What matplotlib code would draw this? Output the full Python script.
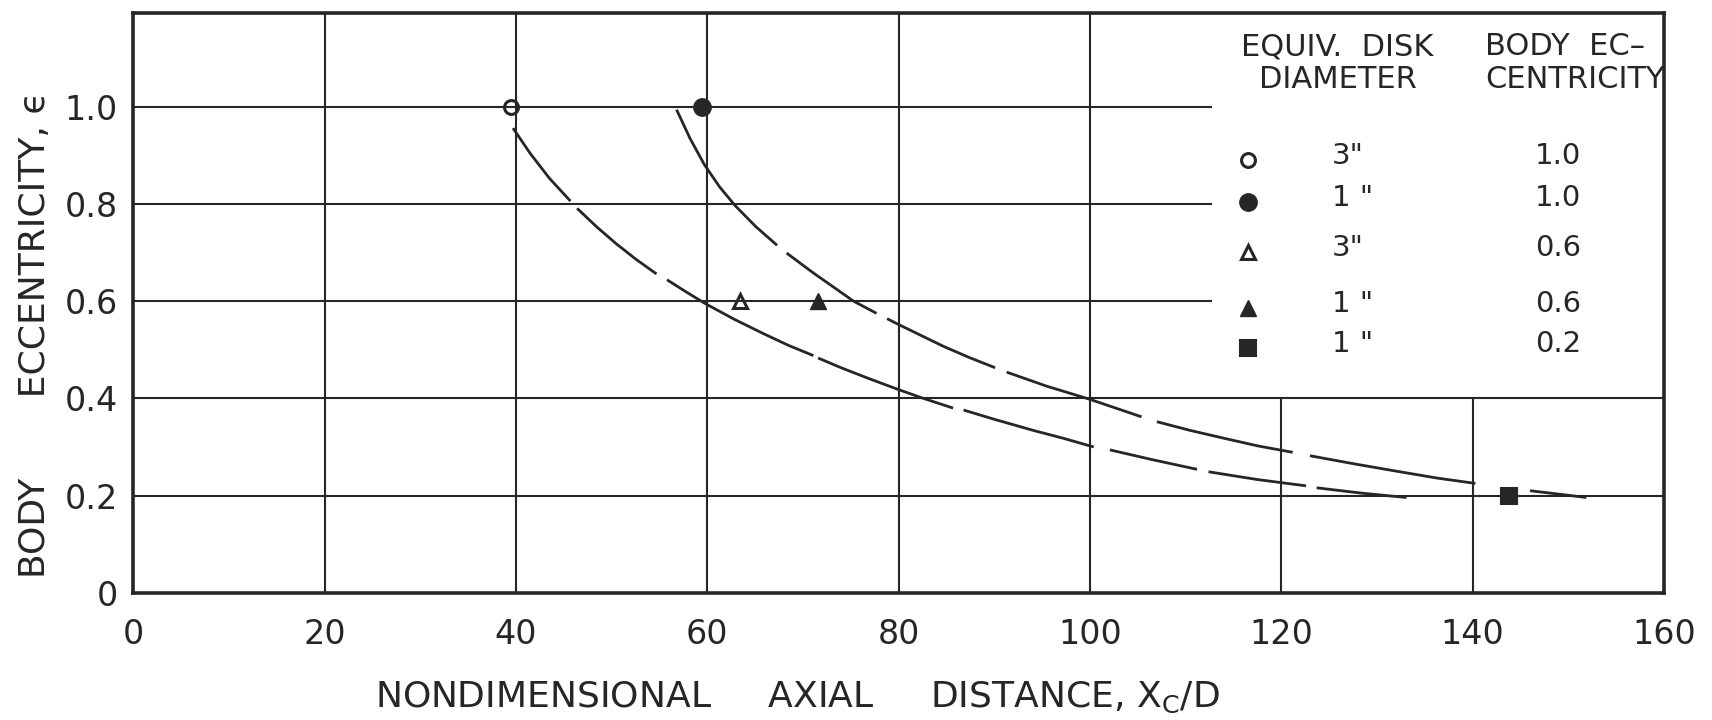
import numpy as np
import matplotlib
matplotlib.use("Agg")
import matplotlib.pyplot as plt

nan = np.nan

# curves are drawn as pen dashes; nan marks a lift of the pen
lower_x = [39.7, 41.5, 43.5, 45.7, nan,
           46.4, 48.5, 50.5, 52.5, 54.7, nan,
           55.8, 57.8, 59.8, 62.8, 65.9, 68.5, 71.1, nan,
           71.6, 74.0, 77.0, 80.0, 82.6, 85.7, nan,
           86.8, 90.0, 94.1, 97.2, 100.4, nan,
           102.1, 106.5, 111.2, nan,
           112.4, 117.5, 122.6, nan,
           123.7, 128.4, 133.1]
lower_y = [0.956, 0.904, 0.853, 0.806, nan,
           0.791, 0.752, 0.718, 0.687, 0.656, nan,
           0.644, 0.619, 0.595, 0.563, 0.533, 0.509, 0.488, nan,
           0.483, 0.463, 0.440, 0.418, 0.400, 0.380, nan,
           0.376, 0.357, 0.334, 0.318, 0.300, nan,
           0.294, 0.274, 0.254, nan,
           0.249, 0.233, 0.220, nan,
           0.216, 0.205, 0.196]

upper_x = [56.8, 58.2, 59.7, 61.3, 62.9, 65.1, 67.3, nan,
           68.3, 71.1, 73.2, 75.3, 77.7, nan,
           78.8, 80.0, 82.3, 84.7, 87.4, 90.1, nan,
           91.3, 95.5, 100.0, 102.7, 105.4, nan,
           107.0, 110.5, 114.0, 117.6, 121.2, nan,
           123.0, 127.7, 132.4, 136.3, 140.3, nan,
           146.0, 149.0, 151.9]
upper_y = [0.994, 0.935, 0.881, 0.835, 0.797, 0.753, 0.715, nan,
           0.699, 0.658, 0.629, 0.600, 0.575, nan,
           0.564, 0.552, 0.530, 0.507, 0.484, 0.463, nan,
           0.454, 0.425, 0.398, 0.380, 0.362, nan,
           0.352, 0.334, 0.318, 0.302, 0.289, nan,
           0.282, 0.265, 0.249, 0.236, 0.225, nan,
           0.210, 0.203, 0.196]

# test points
point_x = [39.5, 59.5, 63.4, 71.6, 143.8]
point_ecc = [1.0, 1.0, 0.6, 0.6, 0.2]
point_diam = ['3"', '1 "', '3"', '1 "', '1 "']

x_ticks = [0, 20, 40, 60, 80, 100, 120, 140, 160]
y_ticks = [0, 0.2, 0.4, 0.6, 0.8, 1.0]
y_ticklabels = ["0", "0.2", "0.4", "0.6", "0.8", "1.0"]

ink = "#262626"
marker_styles = [
    dict(marker="o", mfc="none", mec=ink, ms=10, mew=2.2),
    dict(marker="o", mfc=ink, mec=ink, ms=12.5),
    dict(marker="^", mfc="none", mec=ink, ms=10, mew=2.2),
    dict(marker="^", mfc=ink, mec=ink, ms=11),
    dict(marker="s", mfc=ink, mec=ink, ms=12, mew=1.5),
]
key_y = [0.899, 0.813, 0.710, 0.594, 0.512]

plt.rcParams["font.family"] = ["DejaVu Sans"]
plt.rcParams["mathtext.fontset"] = "dejavusans"

fig = plt.figure(figsize=(17.12, 7.2), dpi=100)
ax = fig.add_axes([0.0778, 0.1767, 0.8941, 0.8053])
ymax = 1.193
ax.set_xlim(0, 160)
ax.set_ylim(0, ymax)

# grid paper, upper right corner kept clear for the key
ax.hlines(y_ticks[1:], 0, [160, 160, 112.8, 112.8, 112.8], color=ink, lw=1.5, zorder=1)
ax.vlines(x_ticks[1:-1], 0, [ymax] * 5 + [0.4, 0.4], color=ink, lw=1.5, zorder=1)

ax.plot(lower_x, lower_y, color=ink, lw=2.0, solid_capstyle="butt", zorder=2)
ax.plot(upper_x, upper_y, color=ink, lw=2.0, solid_capstyle="butt", zorder=2)

for x, e, st in zip(point_x, point_ecc, marker_styles):
    ax.plot([x], [e], ls="none", zorder=3, **st)

# key
head = dict(va="center", fontsize=22, color=ink)
ax.text(125.9, 1.123, "EQUIV.  DISK", ha="center", **head)
ax.text(125.9, 1.057, "DIAMETER", ha="center", **head)
ax.text(141.3, 1.123, "BODY  EC\u2013", ha="left", **head)
ax.text(141.3, 1.057, "CENTRICITY", ha="left", **head)
for ky, d, e, st in zip(key_y, point_diam, point_ecc, marker_styles):
    ax.plot([116.5], [ky - 0.009], ls="none", clip_on=False, zorder=3, **st)
    ax.text(125.3, ky, d, ha="left", va="center", fontsize=21, color=ink)
    ax.text(148.9, ky, f"{e:.1f}", ha="center", va="center", fontsize=21, color=ink)

ax.set_xticks(x_ticks)
ax.set_xticklabels([str(t) for t in x_ticks])
ax.set_yticks(y_ticks)
ax.set_yticklabels(y_ticklabels)
ax.tick_params(axis="both", length=0, labelsize=24, colors=ink)
ax.tick_params(axis="x", pad=18)
ax.tick_params(axis="y", pad=11)

for s in ax.spines.values():
    s.set_linewidth(2.6)
    s.set_color(ink)

ax.set_xlabel("NONDIMENSIONAL     AXIAL     DISTANCE, X$_\\mathregular{C}$/D",
              fontsize=26, color=ink)
ax.xaxis.set_label_coords(0.434, -0.18)
ax.xaxis.label.set_va("center")
ax.set_ylabel("BODY       ECCENTRICITY, \u03f5", fontsize=26, color=ink)
ax.yaxis.set_label_coords(-0.064, 0.445)
ax.yaxis.label.set_va("center")

fig.savefig("out.png", dpi=100, facecolor="white")
